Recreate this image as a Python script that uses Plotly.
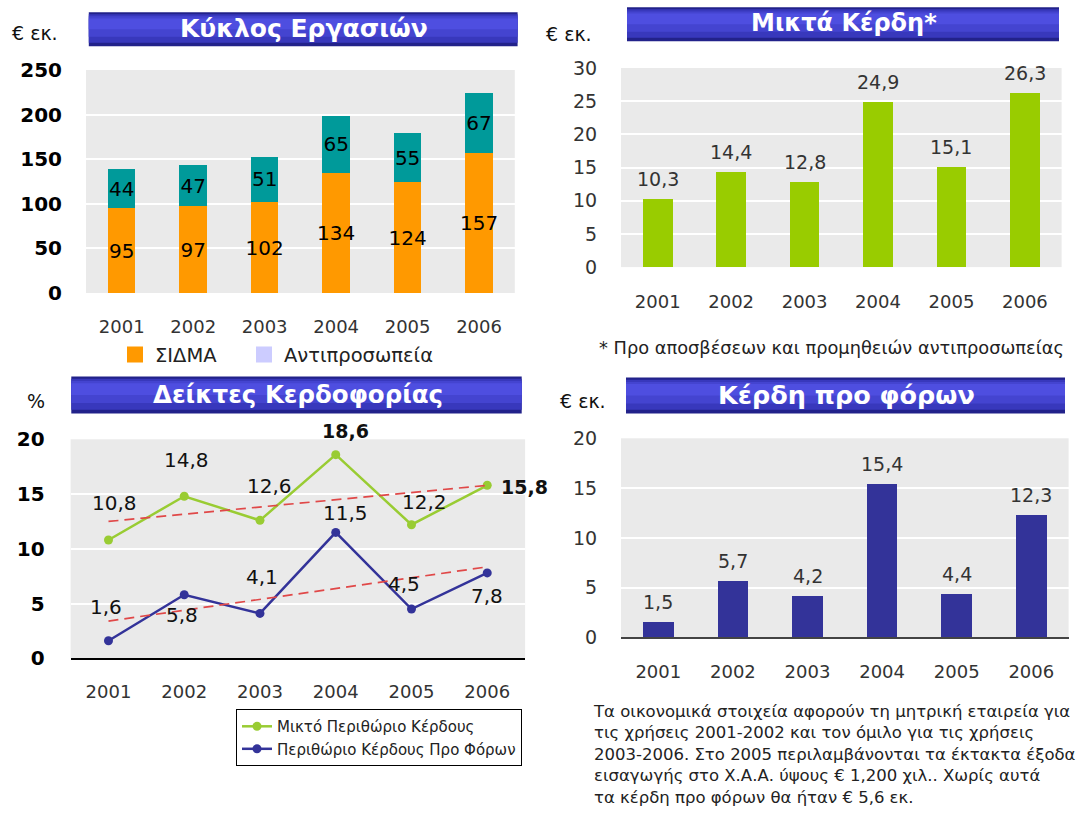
import plotly.graph_objects as go

W, H = 1087, 813

# ---------------- data ----------------
years = ['2001', '2002', '2003', '2004', '2005', '2006']
sidma = [95, 97, 102, 134, 124, 157]
antiprosopeia = [44, 47, 51, 65, 55, 67]
gross_profit = [10.3, 14.4, 12.8, 24.9, 15.1, 26.3]
gross_margin = [10.8, 14.8, 12.6, 18.6, 12.2, 15.8]
pretax_margin = [1.6, 5.8, 4.1, 11.5, 4.5, 7.8]
pretax_profit = [1.5, 5.7, 4.2, 15.4, 4.4, 12.3]
trend_years = ['2001', '2006']
gross_margin_trend = [12.5, 15.8]
pretax_margin_trend = [3.4, 8.35]

titles = ['Κύκλος Εργασιών', 'Μικτά Κέρδη*', 'Δείκτες Κερδοφορίας', 'Κέρδη προ φόρων']
units = ['€ εκ.', '€ εκ.', '%', '€ εκ.']
legend1_names = ['ΣΙΔΜΑ', 'Αντιπροσωπεία']
legend3_names = ['Μικτό Περιθώριο Κέρδους', 'Περιθώριο Κέρδους Προ Φόρων']
footnote = '* Προ αποσβέσεων και προμηθειών αντιπροσωπείας'
note_lines = [
    'Τα οικονομικά στοιχεία αφορούν τη μητρική εταιρεία για',
    'τις χρήσεις 2001-2002 και τον όμιλο για τις χρήσεις',
    '2003-2006. Στο 2005 περιλαμβάνονται τα έκτακτα έξοδα',
    'εισαγωγής στο Χ.Α.Α. ύψους € 1,200 χιλ.. Χωρίς αυτά',
    'τα κέρδη προ φόρων θα ήταν € 5,6 εκ.',
]

# ---------------- styles / positions ----------------
FONT = 'DejaVu Sans'
ORANGE, TEAL, LAVENDER = '#ff9900', '#009a9a', '#ccccff'
GREEN_BAR, NAVY = '#99cc00', '#333399'
GREEN_LINE, BLUE_LINE, RED = '#99cc33', '#333399', '#e04848'
PLOT_BG = '#eaeaea'

gm_shift = [(6, 37), (2, 36), (10, 34), (10, 24), (13, 23), (37, -2)]
gm_bold = [False, False, False, True, False, True]
pm_shift = [(-2, 34), (-2, -20), (2, 36), (10, 19), (-7, 25), (0, -23)]
BAR_LABEL_SHIFT = 20

# vertical calibration of the photographed page
SY, OY = 0.975, 10.7


def fx(x):
    return x / W


def fy(y):
    return 1 - ((y - OY) / SY) / H


def fmt(v):
    return f'{v:.1f}'.replace('.', ',')


fig = go.Figure()

# ---- panel 1: stacked bars ----
for vals, col in [(sidma, ORANGE), (antiprosopeia, TEAL)]:
    fig.add_trace(go.Bar(
        x=years, y=vals, marker=dict(color=col, line=dict(width=0)), width=0.385,
        texttemplate='%{y}', textposition='inside', insidetextanchor='middle',
        constraintext='none', textangle=0,
        insidetextfont=dict(family=FONT, size=20, color='#000'),
        showlegend=False, xaxis='x', yaxis='y', hoverinfo='skip'))
for name, col, lg in zip(legend1_names, [ORANGE, LAVENDER], ['legend', 'legend3']):
    fig.add_trace(go.Scatter(
        x=[None], y=[None], mode='markers', name=name,
        marker=dict(symbol='square', size=16, color=col, line=dict(width=0)),
        xaxis='x', yaxis='y', legend=lg, showlegend=True))

# ---- panel 2 ----
fig.add_trace(go.Bar(
    x=years, y=gross_profit, marker=dict(color=GREEN_BAR, line=dict(width=0)), width=0.405,
    showlegend=False, xaxis='x2', yaxis='y2', hoverinfo='skip'))

# ---- panel 3 ----
fig.add_trace(go.Scatter(
    x=years, y=gross_margin, mode='lines+markers', name=legend3_names[0],
    line=dict(color=GREEN_LINE, width=2.5), marker=dict(color=GREEN_LINE, size=9),
    xaxis='x3', yaxis='y3', legend='legend2', cliponaxis=False))
fig.add_trace(go.Scatter(
    x=years, y=pretax_margin, mode='lines+markers', name=legend3_names[1],
    line=dict(color=BLUE_LINE, width=2.5), marker=dict(color=BLUE_LINE, size=9),
    xaxis='x3', yaxis='y3', legend='legend2', cliponaxis=False))
for tr in [gross_margin_trend, pretax_margin_trend]:
    fig.add_trace(go.Scatter(
        x=trend_years, y=tr, mode='lines', showlegend=False,
        line=dict(color=RED, width=1.7, dash='10px,6px'),
        xaxis='x3', yaxis='y3', hoverinfo='skip'))

# ---- panel 4 ----
fig.add_trace(go.Bar(
    x=years, y=pretax_profit, marker=dict(color=NAVY, line=dict(width=0)), width=0.41,
    showlegend=False, xaxis='x4', yaxis='y4', hoverinfo='skip'))

# ---------------- axes ----------------
panels = {
    '': dict(xd=(86, 514.8), yd=(293, 69), yr=[0, 250], dt=50, ybold=True, ysize=20, xlen=17, ylen=19, line=None),
    '2': dict(xd=(621, 1061.6), yd=(267, 67), yr=[0, 30], dt=5, ybold=False, ysize=19, xlen=18, ylen=19, line=None),
    '3': dict(xd=(70.6, 525.1), yd=(660, 440), yr=[0, 20], dt=5, ybold=True, ysize=20, xlen=16, ylen=21, line='#000'),
    '4': dict(xd=(621, 1068.6), yd=(639, 439), yr=[0, 20], dt=5, ybold=False, ysize=19, xlen=17, ylen=19, line='#444'),
}
layout_axes = {}
for k, p in panels.items():
    layout_axes['xaxis' + k] = dict(
        domain=[fx(p['xd'][0]), fx(p['xd'][1])], anchor='y' + k, type='category',
        range=[-0.5, 5.5], showgrid=False, zeroline=False, fixedrange=True,
        ticks='outside', ticklen=p['xlen'], tickcolor='rgba(0,0,0,0)',
        tickfont=dict(family=FONT, size=18, color='#333'),
        showline=p['line'] is not None, linecolor=p['line'] or '#000', linewidth=1.6,
    )
    layout_axes['yaxis' + k] = dict(
        domain=[fy(p['yd'][0]), fy(p['yd'][1])], anchor='x' + k, range=p['yr'],
        dtick=p['dt'], tick0=0, showgrid=True, gridcolor='white', gridwidth=1.5,
        zeroline=False, fixedrange=True, showline=False,
        ticks='outside', ticklen=p['ylen'], tickcolor='rgba(0,0,0,0)',
        tickfont=dict(family=FONT, size=p['ysize'],
                      color='#000' if p['ybold'] else '#333',
                      weight='bold' if p['ybold'] else 'normal'),
    )

# ---------------- banners ----------------
banners = [(88.8, 517.6, 11, 45), (627, 1059, 6, 40), (71.3, 521.7, 377, 414), (626, 1065, 378, 414)]
title_sizes = [25, 24, 24.5, 25.5]
layers = [(0.0, 1.0, '#22228a'), (0.06, 0.9, '#3838bc'), (0.12, 0.72, '#4444d0'), (0.18, 0.5, '#4e4ee0')]
shapes = []
annotations = []
for (x0, x1, y0, y1), title, ts in zip(banners, titles, title_sizes):
    for a, b, col in layers:
        shapes.append(dict(type='rect', xref='paper', yref='paper',
                           x0=fx(x0), x1=fx(x1),
                           y0=fy(y0 + (y1 - y0) * b), y1=fy(y0 + (y1 - y0) * a),
                           fillcolor=col, line=dict(width=0), layer='below'))
    annotations.append(dict(text=title, xref='paper', yref='paper',
                            x=fx((x0 + x1) / 2 + 1), y=fy((y0 + y1) / 2 - 1),
                            xanchor='center', yanchor='middle', showarrow=False,
                            font=dict(family=FONT, size=ts, color='white', weight='bold')))

# unit labels
unit_pos = [(35, 32), (569, 33), (36, 402), (583, 402)]
for (ux, uy), u in zip(unit_pos, units):
    annotations.append(dict(text=u, xref='paper', yref='paper', x=fx(ux), y=fy(uy),
                            xanchor='center', yanchor='middle', showarrow=False,
                            font=dict(family=FONT, size=19, color='#111')))

# value labels above bars (panels 2 and 4)
for ax, vals in [('2', gross_profit), ('4', pretax_profit)]:
    for i, v in enumerate(vals):
        annotations.append(dict(text=fmt(v), xref='x' + ax, yref='y' + ax, x=i, y=v,
                                yshift=BAR_LABEL_SHIFT, showarrow=False,
                                xanchor='center', yanchor='middle',
                                font=dict(family=FONT, size=19, color='#333')))

# panel 3 point labels
for i, (v, (dx, dy), b) in enumerate(zip(gross_margin, gm_shift, gm_bold)):
    annotations.append(dict(text=fmt(v), xref='x3', yref='y3', x=i, y=v,
                            xshift=dx, yshift=dy, showarrow=False,
                            xanchor='center', yanchor='middle',
                            font=dict(family=FONT, size=19 if b else 20, color='#111',
                                      weight='bold' if b else 'normal')))
for i, (v, (dx, dy)) in enumerate(zip(pretax_margin, pm_shift)):
    annotations.append(dict(text=fmt(v), xref='x3', yref='y3', x=i, y=v,
                            xshift=dx, yshift=dy, showarrow=False,
                            xanchor='center', yanchor='middle',
                            font=dict(family=FONT, size=20, color='#111')))

# footnote and note
annotations.append(dict(text=footnote, xref='paper', yref='paper', x=fx(597), y=fy(348),
                        xanchor='left', yanchor='middle', showarrow=False,
                        font=dict(family=FONT, size=17.8, color='#222')))
annotations.append(dict(text='<br>'.join(note_lines), xref='paper', yref='paper',
                        x=fx(591), y=fy(702), xanchor='left', yanchor='top', align='left',
                        showarrow=False, font=dict(family=FONT, size=16.5, color='#222')))

leg_common = dict(orientation='h', xanchor='left', yanchor='middle', traceorder='normal',
                  font=dict(family=FONT, size=19.5, color='#222'), bgcolor='rgba(0,0,0,0)',
                  itemclick=False, itemdoubleclick=False)

fig.update_layout(
    width=W, height=H, autosize=False,
    margin=dict(l=0, r=0, t=0, b=0, pad=0),
    paper_bgcolor='white', plot_bgcolor=PLOT_BG,
    barmode='stack', separators=',.',
    font=dict(family=FONT, color='#333'),
    shapes=shapes, annotations=annotations,
    legend=dict(x=fx(115), y=fy(355), **leg_common),
    legend3=dict(x=fx(244), y=fy(355), **leg_common),
    legend2=dict(orientation='v', x=fx(236), y=fy(711), xanchor='left', yanchor='top',
                 traceorder='normal',
                 font=dict(family=FONT, size=15, color='#222'), bgcolor='white',
                 bordercolor='#000', borderwidth=1, tracegroupgap=0,
                 itemclick=False, itemdoubleclick=False),
    hovermode=False,
    **layout_axes,
)

fig.write_html('out.html')
